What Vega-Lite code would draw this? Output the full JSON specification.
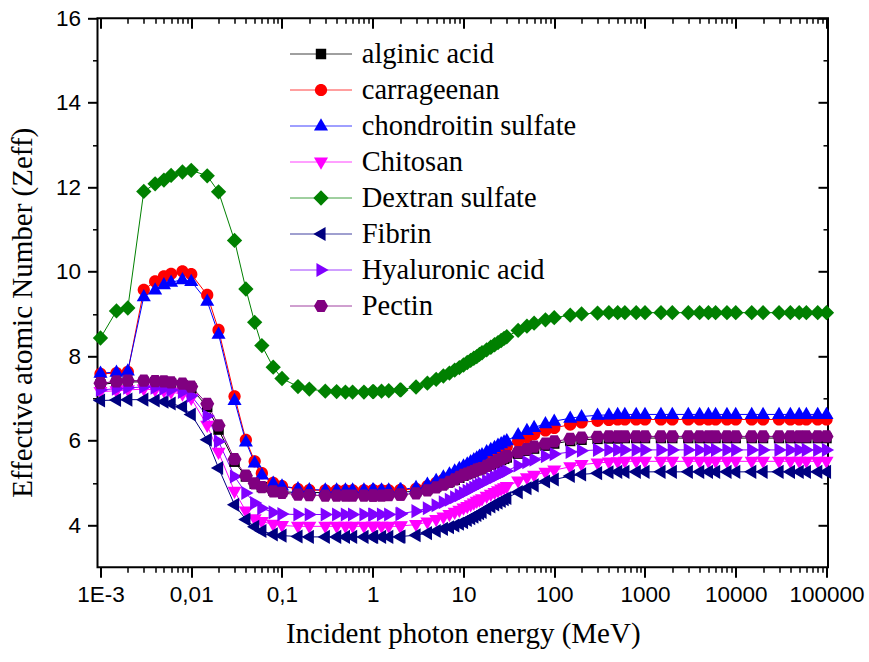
{
  "$schema": "https://vega.github.io/schema/vega-lite/v6.json",
  "width": 730.5,
  "height": 549,
  "autosize": {"type": "none"},
  "padding": {"left": 97.5, "top": 18.3, "right": 41, "bottom": 94.7},
  "background": "white",
  "config": {
    "view": {"stroke": "black", "strokeWidth": 2},
    "axis": {"grid": false, "domain": false, "tickColor": "black", "labelColor": "black", "titleColor": "black"},
    "style": {"guide-label": {"font": "Liberation Serif"}}
  },
  "data": {"values": [
    {"material":"alginic acid","energy":0.001,"zeff":7.33},{"material":"alginic acid","energy":0.0015,"zeff":7.37},{"material":"alginic acid","energy":0.002,"zeff":7.39},{"material":"alginic acid","energy":0.003,"zeff":7.39},{"material":"alginic acid","energy":0.004,"zeff":7.38},{"material":"alginic acid","energy":0.005,"zeff":7.37},{"material":"alginic acid","energy":0.006,"zeff":7.35},{"material":"alginic acid","energy":0.008,"zeff":7.31},{"material":"alginic acid","energy":0.01,"zeff":7.24},
    {"material":"alginic acid","energy":0.015,"zeff":6.80},{"material":"alginic acid","energy":0.02,"zeff":6.26},{"material":"alginic acid","energy":0.03,"zeff":5.50},{"material":"alginic acid","energy":0.04,"zeff":5.15},{"material":"alginic acid","energy":0.05,"zeff":4.98},{"material":"alginic acid","energy":0.06,"zeff":4.90},{"material":"alginic acid","energy":0.08,"zeff":4.82},{"material":"alginic acid","energy":0.1,"zeff":4.79},
    {"material":"alginic acid","energy":0.15,"zeff":4.77},{"material":"alginic acid","energy":0.2,"zeff":4.77},{"material":"alginic acid","energy":0.3,"zeff":4.77},{"material":"alginic acid","energy":0.4,"zeff":4.77},{"material":"alginic acid","energy":0.5,"zeff":4.77},{"material":"alginic acid","energy":0.6,"zeff":4.77},{"material":"alginic acid","energy":0.8,"zeff":4.77},{"material":"alginic acid","energy":1,"zeff":4.77},{"material":"alginic acid","energy":1.022,"zeff":4.77},{"material":"alginic acid","energy":1.25,"zeff":4.77},{"material":"alginic acid","energy":1.5,"zeff":4.77},{"material":"alginic acid","energy":2,"zeff":4.77},{"material":"alginic acid","energy":2.044,"zeff":4.78},
    {"material":"alginic acid","energy":3,"zeff":4.80},{"material":"alginic acid","energy":4,"zeff":4.85},{"material":"alginic acid","energy":5,"zeff":4.91},{"material":"alginic acid","energy":6,"zeff":4.97},{"material":"alginic acid","energy":7,"zeff":5.02},{"material":"alginic acid","energy":8,"zeff":5.07},{"material":"alginic acid","energy":9,"zeff":5.12},{"material":"alginic acid","energy":10,"zeff":5.17},{"material":"alginic acid","energy":11,"zeff":5.21},{"material":"alginic acid","energy":12,"zeff":5.24},{"material":"alginic acid","energy":13,"zeff":5.27},{"material":"alginic acid","energy":14,"zeff":5.30},{"material":"alginic acid","energy":15,"zeff":5.32},{"material":"alginic acid","energy":16,"zeff":5.34},{"material":"alginic acid","energy":18,"zeff":5.39},{"material":"alginic acid","energy":20,"zeff":5.43},{"material":"alginic acid","energy":22,"zeff":5.47},{"material":"alginic acid","energy":24,"zeff":5.50},{"material":"alginic acid","energy":26,"zeff":5.54},{"material":"alginic acid","energy":28,"zeff":5.57},{"material":"alginic acid","energy":30,"zeff":5.60},
    {"material":"alginic acid","energy":40,"zeff":5.69},{"material":"alginic acid","energy":50,"zeff":5.76},{"material":"alginic acid","energy":60,"zeff":5.81},{"material":"alginic acid","energy":80,"zeff":5.88},{"material":"alginic acid","energy":100,"zeff":5.93},{"material":"alginic acid","energy":150,"zeff":5.99},{"material":"alginic acid","energy":200,"zeff":6.02},{"material":"alginic acid","energy":300,"zeff":6.04},{"material":"alginic acid","energy":400,"zeff":6.05},{"material":"alginic acid","energy":500,"zeff":6.05},{"material":"alginic acid","energy":600,"zeff":6.06},{"material":"alginic acid","energy":800,"zeff":6.06},
    {"material":"alginic acid","energy":1000,"zeff":6.06},{"material":"alginic acid","energy":1500,"zeff":6.06},{"material":"alginic acid","energy":2000,"zeff":6.06},{"material":"alginic acid","energy":3000,"zeff":6.06},{"material":"alginic acid","energy":4000,"zeff":6.06},{"material":"alginic acid","energy":5000,"zeff":6.06},{"material":"alginic acid","energy":6000,"zeff":6.06},{"material":"alginic acid","energy":8000,"zeff":6.06},{"material":"alginic acid","energy":10000,"zeff":6.06},{"material":"alginic acid","energy":15000,"zeff":6.06},{"material":"alginic acid","energy":20000,"zeff":6.06},{"material":"alginic acid","energy":30000,"zeff":6.06},{"material":"alginic acid","energy":40000,"zeff":6.06},{"material":"alginic acid","energy":50000,"zeff":6.06},{"material":"alginic acid","energy":60000,"zeff":6.06},{"material":"alginic acid","energy":80000,"zeff":6.06},{"material":"alginic acid","energy":100000,"zeff":6.06},

    {"material":"carrageenan","energy":0.001,"zeff":7.58},{"material":"carrageenan","energy":0.0015,"zeff":7.60},{"material":"carrageenan","energy":0.002,"zeff":7.63},{"material":"carrageenan","energy":0.003,"zeff":9.57},{"material":"carrageenan","energy":0.004,"zeff":9.77},{"material":"carrageenan","energy":0.005,"zeff":9.89},{"material":"carrageenan","energy":0.006,"zeff":9.95},{"material":"carrageenan","energy":0.008,"zeff":10.01},{"material":"carrageenan","energy":0.01,"zeff":9.94},
    {"material":"carrageenan","energy":0.015,"zeff":9.45},{"material":"carrageenan","energy":0.02,"zeff":8.62},{"material":"carrageenan","energy":0.03,"zeff":7.05},{"material":"carrageenan","energy":0.04,"zeff":6.02},{"material":"carrageenan","energy":0.05,"zeff":5.51},{"material":"carrageenan","energy":0.06,"zeff":5.23},{"material":"carrageenan","energy":0.08,"zeff":5.00},{"material":"carrageenan","energy":0.1,"zeff":4.92},
    {"material":"carrageenan","energy":0.15,"zeff":4.85},{"material":"carrageenan","energy":0.2,"zeff":4.83},{"material":"carrageenan","energy":0.3,"zeff":4.82},{"material":"carrageenan","energy":0.4,"zeff":4.82},{"material":"carrageenan","energy":0.5,"zeff":4.82},{"material":"carrageenan","energy":0.6,"zeff":4.82},{"material":"carrageenan","energy":0.8,"zeff":4.82},{"material":"carrageenan","energy":1,"zeff":4.82},{"material":"carrageenan","energy":1.022,"zeff":4.82},{"material":"carrageenan","energy":1.25,"zeff":4.82},{"material":"carrageenan","energy":1.5,"zeff":4.82},{"material":"carrageenan","energy":2,"zeff":4.83},{"material":"carrageenan","energy":2.044,"zeff":4.83},
    {"material":"carrageenan","energy":3,"zeff":4.86},{"material":"carrageenan","energy":4,"zeff":4.92},{"material":"carrageenan","energy":5,"zeff":5.00},{"material":"carrageenan","energy":6,"zeff":5.07},{"material":"carrageenan","energy":7,"zeff":5.13},{"material":"carrageenan","energy":8,"zeff":5.19},{"material":"carrageenan","energy":9,"zeff":5.25},{"material":"carrageenan","energy":10,"zeff":5.30},{"material":"carrageenan","energy":11,"zeff":5.35},{"material":"carrageenan","energy":12,"zeff":5.39},{"material":"carrageenan","energy":13,"zeff":5.43},{"material":"carrageenan","energy":14,"zeff":5.47},{"material":"carrageenan","energy":15,"zeff":5.51},{"material":"carrageenan","energy":16,"zeff":5.54},{"material":"carrageenan","energy":18,"zeff":5.60},{"material":"carrageenan","energy":20,"zeff":5.66},{"material":"carrageenan","energy":22,"zeff":5.71},{"material":"carrageenan","energy":24,"zeff":5.75},{"material":"carrageenan","energy":26,"zeff":5.79},{"material":"carrageenan","energy":28,"zeff":5.83},{"material":"carrageenan","energy":30,"zeff":5.86},
    {"material":"carrageenan","energy":40,"zeff":5.99},{"material":"carrageenan","energy":50,"zeff":6.08},{"material":"carrageenan","energy":60,"zeff":6.15},{"material":"carrageenan","energy":80,"zeff":6.24},{"material":"carrageenan","energy":100,"zeff":6.30},{"material":"carrageenan","energy":150,"zeff":6.38},{"material":"carrageenan","energy":200,"zeff":6.43},{"material":"carrageenan","energy":300,"zeff":6.47},{"material":"carrageenan","energy":400,"zeff":6.49},{"material":"carrageenan","energy":500,"zeff":6.50},{"material":"carrageenan","energy":600,"zeff":6.50},{"material":"carrageenan","energy":800,"zeff":6.50},
    {"material":"carrageenan","energy":1000,"zeff":6.50},{"material":"carrageenan","energy":1500,"zeff":6.50},{"material":"carrageenan","energy":2000,"zeff":6.50},{"material":"carrageenan","energy":3000,"zeff":6.50},{"material":"carrageenan","energy":4000,"zeff":6.50},{"material":"carrageenan","energy":5000,"zeff":6.50},{"material":"carrageenan","energy":6000,"zeff":6.50},{"material":"carrageenan","energy":8000,"zeff":6.50},{"material":"carrageenan","energy":10000,"zeff":6.50},{"material":"carrageenan","energy":15000,"zeff":6.50},{"material":"carrageenan","energy":20000,"zeff":6.50},{"material":"carrageenan","energy":30000,"zeff":6.50},{"material":"carrageenan","energy":40000,"zeff":6.50},{"material":"carrageenan","energy":50000,"zeff":6.50},{"material":"carrageenan","energy":60000,"zeff":6.50},{"material":"carrageenan","energy":80000,"zeff":6.50},{"material":"carrageenan","energy":100000,"zeff":6.50},

    {"material":"chondroitin sulfate","energy":0.001,"zeff":7.60},{"material":"chondroitin sulfate","energy":0.0015,"zeff":7.62},{"material":"chondroitin sulfate","energy":0.002,"zeff":7.65},{"material":"chondroitin sulfate","energy":0.003,"zeff":9.41},{"material":"chondroitin sulfate","energy":0.004,"zeff":9.57},{"material":"chondroitin sulfate","energy":0.005,"zeff":9.69},{"material":"chondroitin sulfate","energy":0.006,"zeff":9.75},{"material":"chondroitin sulfate","energy":0.008,"zeff":9.81},{"material":"chondroitin sulfate","energy":0.01,"zeff":9.77},
    {"material":"chondroitin sulfate","energy":0.015,"zeff":9.30},{"material":"chondroitin sulfate","energy":0.02,"zeff":8.52},{"material":"chondroitin sulfate","energy":0.03,"zeff":6.95},{"material":"chondroitin sulfate","energy":0.04,"zeff":5.97},{"material":"chondroitin sulfate","energy":0.05,"zeff":5.47},{"material":"chondroitin sulfate","energy":0.06,"zeff":5.19},{"material":"chondroitin sulfate","energy":0.08,"zeff":4.99},{"material":"chondroitin sulfate","energy":0.1,"zeff":4.93},
    {"material":"chondroitin sulfate","energy":0.15,"zeff":4.86},{"material":"chondroitin sulfate","energy":0.2,"zeff":4.84},{"material":"chondroitin sulfate","energy":0.3,"zeff":4.83},{"material":"chondroitin sulfate","energy":0.4,"zeff":4.83},{"material":"chondroitin sulfate","energy":0.5,"zeff":4.83},{"material":"chondroitin sulfate","energy":0.6,"zeff":4.83},{"material":"chondroitin sulfate","energy":0.8,"zeff":4.83},{"material":"chondroitin sulfate","energy":1,"zeff":4.83},{"material":"chondroitin sulfate","energy":1.022,"zeff":4.83},{"material":"chondroitin sulfate","energy":1.25,"zeff":4.83},{"material":"chondroitin sulfate","energy":1.5,"zeff":4.83},{"material":"chondroitin sulfate","energy":2,"zeff":4.84},{"material":"chondroitin sulfate","energy":2.044,"zeff":4.84},
    {"material":"chondroitin sulfate","energy":3,"zeff":4.89},{"material":"chondroitin sulfate","energy":4,"zeff":4.97},{"material":"chondroitin sulfate","energy":5,"zeff":5.06},{"material":"chondroitin sulfate","energy":6,"zeff":5.14},{"material":"chondroitin sulfate","energy":7,"zeff":5.21},{"material":"chondroitin sulfate","energy":8,"zeff":5.28},{"material":"chondroitin sulfate","energy":9,"zeff":5.34},{"material":"chondroitin sulfate","energy":10,"zeff":5.40},{"material":"chondroitin sulfate","energy":11,"zeff":5.45},{"material":"chondroitin sulfate","energy":12,"zeff":5.50},{"material":"chondroitin sulfate","energy":13,"zeff":5.55},{"material":"chondroitin sulfate","energy":14,"zeff":5.59},{"material":"chondroitin sulfate","energy":15,"zeff":5.63},{"material":"chondroitin sulfate","energy":16,"zeff":5.67},{"material":"chondroitin sulfate","energy":18,"zeff":5.74},{"material":"chondroitin sulfate","energy":20,"zeff":5.79},{"material":"chondroitin sulfate","energy":22,"zeff":5.84},{"material":"chondroitin sulfate","energy":24,"zeff":5.89},{"material":"chondroitin sulfate","energy":26,"zeff":5.93},{"material":"chondroitin sulfate","energy":28,"zeff":5.97},{"material":"chondroitin sulfate","energy":30,"zeff":6.00},
    {"material":"chondroitin sulfate","energy":40,"zeff":6.14},{"material":"chondroitin sulfate","energy":50,"zeff":6.24},{"material":"chondroitin sulfate","energy":60,"zeff":6.31},{"material":"chondroitin sulfate","energy":80,"zeff":6.40},{"material":"chondroitin sulfate","energy":100,"zeff":6.46},{"material":"chondroitin sulfate","energy":150,"zeff":6.53},{"material":"chondroitin sulfate","energy":200,"zeff":6.57},{"material":"chondroitin sulfate","energy":300,"zeff":6.60},{"material":"chondroitin sulfate","energy":400,"zeff":6.61},{"material":"chondroitin sulfate","energy":500,"zeff":6.62},{"material":"chondroitin sulfate","energy":600,"zeff":6.62},{"material":"chondroitin sulfate","energy":800,"zeff":6.62},
    {"material":"chondroitin sulfate","energy":1000,"zeff":6.62},{"material":"chondroitin sulfate","energy":1500,"zeff":6.62},{"material":"chondroitin sulfate","energy":2000,"zeff":6.62},{"material":"chondroitin sulfate","energy":3000,"zeff":6.62},{"material":"chondroitin sulfate","energy":4000,"zeff":6.62},{"material":"chondroitin sulfate","energy":5000,"zeff":6.62},{"material":"chondroitin sulfate","energy":6000,"zeff":6.62},{"material":"chondroitin sulfate","energy":8000,"zeff":6.62},{"material":"chondroitin sulfate","energy":10000,"zeff":6.62},{"material":"chondroitin sulfate","energy":15000,"zeff":6.62},{"material":"chondroitin sulfate","energy":20000,"zeff":6.62},{"material":"chondroitin sulfate","energy":30000,"zeff":6.62},{"material":"chondroitin sulfate","energy":40000,"zeff":6.62},{"material":"chondroitin sulfate","energy":50000,"zeff":6.62},{"material":"chondroitin sulfate","energy":60000,"zeff":6.62},{"material":"chondroitin sulfate","energy":80000,"zeff":6.62},{"material":"chondroitin sulfate","energy":100000,"zeff":6.62},

    {"material":"Chitosan","energy":0.001,"zeff":7.16},{"material":"Chitosan","energy":0.0015,"zeff":7.18},{"material":"Chitosan","energy":0.002,"zeff":7.20},{"material":"Chitosan","energy":0.003,"zeff":7.22},{"material":"Chitosan","energy":0.004,"zeff":7.20},{"material":"Chitosan","energy":0.005,"zeff":7.18},{"material":"Chitosan","energy":0.006,"zeff":7.15},{"material":"Chitosan","energy":0.008,"zeff":7.10},{"material":"Chitosan","energy":0.01,"zeff":7.00},
    {"material":"Chitosan","energy":0.015,"zeff":6.36},{"material":"Chitosan","energy":0.02,"zeff":5.72},{"material":"Chitosan","energy":0.03,"zeff":4.80},{"material":"Chitosan","energy":0.04,"zeff":4.33},{"material":"Chitosan","energy":0.05,"zeff":4.15},{"material":"Chitosan","energy":0.06,"zeff":4.08},{"material":"Chitosan","energy":0.08,"zeff":4.02},{"material":"Chitosan","energy":0.1,"zeff":3.99},
    {"material":"Chitosan","energy":0.15,"zeff":3.97},{"material":"Chitosan","energy":0.2,"zeff":3.97},{"material":"Chitosan","energy":0.3,"zeff":3.97},{"material":"Chitosan","energy":0.4,"zeff":3.97},{"material":"Chitosan","energy":0.5,"zeff":3.97},{"material":"Chitosan","energy":0.6,"zeff":3.97},{"material":"Chitosan","energy":0.8,"zeff":3.97},{"material":"Chitosan","energy":1,"zeff":3.97},{"material":"Chitosan","energy":1.022,"zeff":3.97},{"material":"Chitosan","energy":1.25,"zeff":3.97},{"material":"Chitosan","energy":1.5,"zeff":3.97},{"material":"Chitosan","energy":2,"zeff":3.97},{"material":"Chitosan","energy":2.044,"zeff":3.98},
    {"material":"Chitosan","energy":3,"zeff":4.01},{"material":"Chitosan","energy":4,"zeff":4.07},{"material":"Chitosan","energy":5,"zeff":4.13},{"material":"Chitosan","energy":6,"zeff":4.19},{"material":"Chitosan","energy":7,"zeff":4.25},{"material":"Chitosan","energy":8,"zeff":4.30},{"material":"Chitosan","energy":9,"zeff":4.35},{"material":"Chitosan","energy":10,"zeff":4.40},{"material":"Chitosan","energy":11,"zeff":4.44},{"material":"Chitosan","energy":12,"zeff":4.48},{"material":"Chitosan","energy":13,"zeff":4.52},{"material":"Chitosan","energy":14,"zeff":4.56},{"material":"Chitosan","energy":15,"zeff":4.59},{"material":"Chitosan","energy":16,"zeff":4.62},{"material":"Chitosan","energy":18,"zeff":4.68},{"material":"Chitosan","energy":20,"zeff":4.73},{"material":"Chitosan","energy":22,"zeff":4.77},{"material":"Chitosan","energy":24,"zeff":4.81},{"material":"Chitosan","energy":26,"zeff":4.85},{"material":"Chitosan","energy":28,"zeff":4.88},{"material":"Chitosan","energy":30,"zeff":4.91},
    {"material":"Chitosan","energy":40,"zeff":5.04},{"material":"Chitosan","energy":50,"zeff":5.12},{"material":"Chitosan","energy":60,"zeff":5.18},{"material":"Chitosan","energy":80,"zeff":5.25},{"material":"Chitosan","energy":100,"zeff":5.30},{"material":"Chitosan","energy":150,"zeff":5.38},{"material":"Chitosan","energy":200,"zeff":5.43},{"material":"Chitosan","energy":300,"zeff":5.47},{"material":"Chitosan","energy":400,"zeff":5.49},{"material":"Chitosan","energy":500,"zeff":5.50},{"material":"Chitosan","energy":600,"zeff":5.51},{"material":"Chitosan","energy":800,"zeff":5.51},
    {"material":"Chitosan","energy":1000,"zeff":5.51},{"material":"Chitosan","energy":1500,"zeff":5.51},{"material":"Chitosan","energy":2000,"zeff":5.51},{"material":"Chitosan","energy":3000,"zeff":5.51},{"material":"Chitosan","energy":4000,"zeff":5.51},{"material":"Chitosan","energy":5000,"zeff":5.51},{"material":"Chitosan","energy":6000,"zeff":5.51},{"material":"Chitosan","energy":8000,"zeff":5.51},{"material":"Chitosan","energy":10000,"zeff":5.51},{"material":"Chitosan","energy":15000,"zeff":5.51},{"material":"Chitosan","energy":20000,"zeff":5.51},{"material":"Chitosan","energy":30000,"zeff":5.51},{"material":"Chitosan","energy":40000,"zeff":5.51},{"material":"Chitosan","energy":50000,"zeff":5.51},{"material":"Chitosan","energy":60000,"zeff":5.51},{"material":"Chitosan","energy":80000,"zeff":5.51},{"material":"Chitosan","energy":100000,"zeff":5.51},

    {"material":"Dextran sulfate","energy":0.001,"zeff":8.43},{"material":"Dextran sulfate","energy":0.0015,"zeff":9.07},{"material":"Dextran sulfate","energy":0.002,"zeff":9.14},{"material":"Dextran sulfate","energy":0.003,"zeff":11.90},{"material":"Dextran sulfate","energy":0.004,"zeff":12.08},{"material":"Dextran sulfate","energy":0.005,"zeff":12.17},{"material":"Dextran sulfate","energy":0.006,"zeff":12.28},{"material":"Dextran sulfate","energy":0.008,"zeff":12.36},{"material":"Dextran sulfate","energy":0.01,"zeff":12.40},
    {"material":"Dextran sulfate","energy":0.015,"zeff":12.27},{"material":"Dextran sulfate","energy":0.02,"zeff":11.89},{"material":"Dextran sulfate","energy":0.03,"zeff":10.74},{"material":"Dextran sulfate","energy":0.04,"zeff":9.59},{"material":"Dextran sulfate","energy":0.05,"zeff":8.80},{"material":"Dextran sulfate","energy":0.06,"zeff":8.25},{"material":"Dextran sulfate","energy":0.08,"zeff":7.74},{"material":"Dextran sulfate","energy":0.1,"zeff":7.47},
    {"material":"Dextran sulfate","energy":0.15,"zeff":7.28},{"material":"Dextran sulfate","energy":0.2,"zeff":7.22},{"material":"Dextran sulfate","energy":0.3,"zeff":7.17},{"material":"Dextran sulfate","energy":0.4,"zeff":7.16},{"material":"Dextran sulfate","energy":0.5,"zeff":7.15},{"material":"Dextran sulfate","energy":0.6,"zeff":7.15},{"material":"Dextran sulfate","energy":0.8,"zeff":7.15},{"material":"Dextran sulfate","energy":1,"zeff":7.16},{"material":"Dextran sulfate","energy":1.022,"zeff":7.16},{"material":"Dextran sulfate","energy":1.25,"zeff":7.17},{"material":"Dextran sulfate","energy":1.5,"zeff":7.18},{"material":"Dextran sulfate","energy":2,"zeff":7.20},{"material":"Dextran sulfate","energy":2.044,"zeff":7.20},
    {"material":"Dextran sulfate","energy":3,"zeff":7.27},{"material":"Dextran sulfate","energy":4,"zeff":7.36},{"material":"Dextran sulfate","energy":5,"zeff":7.45},{"material":"Dextran sulfate","energy":6,"zeff":7.53},{"material":"Dextran sulfate","energy":7,"zeff":7.60},{"material":"Dextran sulfate","energy":8,"zeff":7.67},{"material":"Dextran sulfate","energy":9,"zeff":7.73},{"material":"Dextran sulfate","energy":10,"zeff":7.79},{"material":"Dextran sulfate","energy":11,"zeff":7.85},{"material":"Dextran sulfate","energy":12,"zeff":7.90},{"material":"Dextran sulfate","energy":13,"zeff":7.95},{"material":"Dextran sulfate","energy":14,"zeff":7.99},{"material":"Dextran sulfate","energy":15,"zeff":8.04},{"material":"Dextran sulfate","energy":16,"zeff":8.08},{"material":"Dextran sulfate","energy":18,"zeff":8.15},{"material":"Dextran sulfate","energy":20,"zeff":8.21},{"material":"Dextran sulfate","energy":22,"zeff":8.27},{"material":"Dextran sulfate","energy":24,"zeff":8.32},{"material":"Dextran sulfate","energy":26,"zeff":8.37},{"material":"Dextran sulfate","energy":28,"zeff":8.42},{"material":"Dextran sulfate","energy":30,"zeff":8.46},
    {"material":"Dextran sulfate","energy":40,"zeff":8.61},{"material":"Dextran sulfate","energy":50,"zeff":8.71},{"material":"Dextran sulfate","energy":60,"zeff":8.78},{"material":"Dextran sulfate","energy":80,"zeff":8.86},{"material":"Dextran sulfate","energy":100,"zeff":8.91},{"material":"Dextran sulfate","energy":150,"zeff":8.97},{"material":"Dextran sulfate","energy":200,"zeff":9.00},{"material":"Dextran sulfate","energy":300,"zeff":9.02},{"material":"Dextran sulfate","energy":400,"zeff":9.03},{"material":"Dextran sulfate","energy":500,"zeff":9.03},{"material":"Dextran sulfate","energy":600,"zeff":9.03},{"material":"Dextran sulfate","energy":800,"zeff":9.03},
    {"material":"Dextran sulfate","energy":1000,"zeff":9.03},{"material":"Dextran sulfate","energy":1500,"zeff":9.03},{"material":"Dextran sulfate","energy":2000,"zeff":9.03},{"material":"Dextran sulfate","energy":3000,"zeff":9.03},{"material":"Dextran sulfate","energy":4000,"zeff":9.03},{"material":"Dextran sulfate","energy":5000,"zeff":9.03},{"material":"Dextran sulfate","energy":6000,"zeff":9.03},{"material":"Dextran sulfate","energy":8000,"zeff":9.03},{"material":"Dextran sulfate","energy":10000,"zeff":9.03},{"material":"Dextran sulfate","energy":15000,"zeff":9.03},{"material":"Dextran sulfate","energy":20000,"zeff":9.03},{"material":"Dextran sulfate","energy":30000,"zeff":9.03},{"material":"Dextran sulfate","energy":40000,"zeff":9.03},{"material":"Dextran sulfate","energy":50000,"zeff":9.03},{"material":"Dextran sulfate","energy":60000,"zeff":9.03},{"material":"Dextran sulfate","energy":80000,"zeff":9.03},{"material":"Dextran sulfate","energy":100000,"zeff":9.03},

    {"material":"Fibrin","energy":0.001,"zeff":6.95},{"material":"Fibrin","energy":0.0015,"zeff":6.96},{"material":"Fibrin","energy":0.002,"zeff":6.97},{"material":"Fibrin","energy":0.003,"zeff":6.97},{"material":"Fibrin","energy":0.004,"zeff":6.95},{"material":"Fibrin","energy":0.005,"zeff":6.92},{"material":"Fibrin","energy":0.006,"zeff":6.88},{"material":"Fibrin","energy":0.008,"zeff":6.80},{"material":"Fibrin","energy":0.01,"zeff":6.62},
    {"material":"Fibrin","energy":0.015,"zeff":6.02},{"material":"Fibrin","energy":0.02,"zeff":5.35},{"material":"Fibrin","energy":0.03,"zeff":4.48},{"material":"Fibrin","energy":0.04,"zeff":4.13},{"material":"Fibrin","energy":0.05,"zeff":3.96},{"material":"Fibrin","energy":0.06,"zeff":3.86},{"material":"Fibrin","energy":0.08,"zeff":3.78},{"material":"Fibrin","energy":0.1,"zeff":3.75},
    {"material":"Fibrin","energy":0.15,"zeff":3.73},{"material":"Fibrin","energy":0.2,"zeff":3.72},{"material":"Fibrin","energy":0.3,"zeff":3.72},{"material":"Fibrin","energy":0.4,"zeff":3.72},{"material":"Fibrin","energy":0.5,"zeff":3.72},{"material":"Fibrin","energy":0.6,"zeff":3.72},{"material":"Fibrin","energy":0.8,"zeff":3.72},{"material":"Fibrin","energy":1,"zeff":3.72},{"material":"Fibrin","energy":1.022,"zeff":3.72},{"material":"Fibrin","energy":1.25,"zeff":3.72},{"material":"Fibrin","energy":1.5,"zeff":3.72},{"material":"Fibrin","energy":2,"zeff":3.72},{"material":"Fibrin","energy":2.044,"zeff":3.73},
    {"material":"Fibrin","energy":3,"zeff":3.76},{"material":"Fibrin","energy":4,"zeff":3.81},{"material":"Fibrin","energy":5,"zeff":3.86},{"material":"Fibrin","energy":6,"zeff":3.91},{"material":"Fibrin","energy":7,"zeff":3.95},{"material":"Fibrin","energy":8,"zeff":3.99},{"material":"Fibrin","energy":9,"zeff":4.03},{"material":"Fibrin","energy":10,"zeff":4.07},{"material":"Fibrin","energy":11,"zeff":4.12},{"material":"Fibrin","energy":12,"zeff":4.16},{"material":"Fibrin","energy":13,"zeff":4.20},{"material":"Fibrin","energy":14,"zeff":4.24},{"material":"Fibrin","energy":15,"zeff":4.28},{"material":"Fibrin","energy":16,"zeff":4.31},{"material":"Fibrin","energy":18,"zeff":4.38},{"material":"Fibrin","energy":20,"zeff":4.44},{"material":"Fibrin","energy":22,"zeff":4.49},{"material":"Fibrin","energy":24,"zeff":4.53},{"material":"Fibrin","energy":26,"zeff":4.57},{"material":"Fibrin","energy":28,"zeff":4.61},{"material":"Fibrin","energy":30,"zeff":4.64},
    {"material":"Fibrin","energy":40,"zeff":4.78},{"material":"Fibrin","energy":50,"zeff":4.87},{"material":"Fibrin","energy":60,"zeff":4.94},{"material":"Fibrin","energy":80,"zeff":5.03},{"material":"Fibrin","energy":100,"zeff":5.08},{"material":"Fibrin","energy":150,"zeff":5.16},{"material":"Fibrin","energy":200,"zeff":5.20},{"material":"Fibrin","energy":300,"zeff":5.23},{"material":"Fibrin","energy":400,"zeff":5.25},{"material":"Fibrin","energy":500,"zeff":5.26},{"material":"Fibrin","energy":600,"zeff":5.26},{"material":"Fibrin","energy":800,"zeff":5.26},
    {"material":"Fibrin","energy":1000,"zeff":5.26},{"material":"Fibrin","energy":1500,"zeff":5.26},{"material":"Fibrin","energy":2000,"zeff":5.26},{"material":"Fibrin","energy":3000,"zeff":5.26},{"material":"Fibrin","energy":4000,"zeff":5.26},{"material":"Fibrin","energy":5000,"zeff":5.26},{"material":"Fibrin","energy":6000,"zeff":5.26},{"material":"Fibrin","energy":8000,"zeff":5.26},{"material":"Fibrin","energy":10000,"zeff":5.26},{"material":"Fibrin","energy":15000,"zeff":5.26},{"material":"Fibrin","energy":20000,"zeff":5.26},{"material":"Fibrin","energy":30000,"zeff":5.26},{"material":"Fibrin","energy":40000,"zeff":5.26},{"material":"Fibrin","energy":50000,"zeff":5.26},{"material":"Fibrin","energy":60000,"zeff":5.26},{"material":"Fibrin","energy":80000,"zeff":5.26},{"material":"Fibrin","energy":100000,"zeff":5.26},

    {"material":"Hyaluronic acid","energy":0.001,"zeff":7.20},{"material":"Hyaluronic acid","energy":0.0015,"zeff":7.23},{"material":"Hyaluronic acid","energy":0.002,"zeff":7.25},{"material":"Hyaluronic acid","energy":0.003,"zeff":7.27},{"material":"Hyaluronic acid","energy":0.004,"zeff":7.25},{"material":"Hyaluronic acid","energy":0.005,"zeff":7.23},{"material":"Hyaluronic acid","energy":0.006,"zeff":7.20},{"material":"Hyaluronic acid","energy":0.008,"zeff":7.15},{"material":"Hyaluronic acid","energy":0.01,"zeff":7.06},
    {"material":"Hyaluronic acid","energy":0.015,"zeff":6.58},{"material":"Hyaluronic acid","energy":0.02,"zeff":5.98},{"material":"Hyaluronic acid","energy":0.03,"zeff":5.15},{"material":"Hyaluronic acid","energy":0.04,"zeff":4.76},{"material":"Hyaluronic acid","energy":0.05,"zeff":4.52},{"material":"Hyaluronic acid","energy":0.06,"zeff":4.40},{"material":"Hyaluronic acid","energy":0.08,"zeff":4.30},{"material":"Hyaluronic acid","energy":0.1,"zeff":4.26},
    {"material":"Hyaluronic acid","energy":0.15,"zeff":4.25},{"material":"Hyaluronic acid","energy":0.2,"zeff":4.25},{"material":"Hyaluronic acid","energy":0.3,"zeff":4.25},{"material":"Hyaluronic acid","energy":0.4,"zeff":4.25},{"material":"Hyaluronic acid","energy":0.5,"zeff":4.25},{"material":"Hyaluronic acid","energy":0.6,"zeff":4.25},{"material":"Hyaluronic acid","energy":0.8,"zeff":4.25},{"material":"Hyaluronic acid","energy":1,"zeff":4.25},{"material":"Hyaluronic acid","energy":1.022,"zeff":4.25},{"material":"Hyaluronic acid","energy":1.25,"zeff":4.25},{"material":"Hyaluronic acid","energy":1.5,"zeff":4.25},{"material":"Hyaluronic acid","energy":2,"zeff":4.26},{"material":"Hyaluronic acid","energy":2.044,"zeff":4.27},
    {"material":"Hyaluronic acid","energy":3,"zeff":4.33},{"material":"Hyaluronic acid","energy":4,"zeff":4.40},{"material":"Hyaluronic acid","energy":5,"zeff":4.47},{"material":"Hyaluronic acid","energy":6,"zeff":4.54},{"material":"Hyaluronic acid","energy":7,"zeff":4.60},{"material":"Hyaluronic acid","energy":8,"zeff":4.66},{"material":"Hyaluronic acid","energy":9,"zeff":4.71},{"material":"Hyaluronic acid","energy":10,"zeff":4.76},{"material":"Hyaluronic acid","energy":11,"zeff":4.81},{"material":"Hyaluronic acid","energy":12,"zeff":4.85},{"material":"Hyaluronic acid","energy":13,"zeff":4.89},{"material":"Hyaluronic acid","energy":14,"zeff":4.93},{"material":"Hyaluronic acid","energy":15,"zeff":4.96},{"material":"Hyaluronic acid","energy":16,"zeff":4.99},{"material":"Hyaluronic acid","energy":18,"zeff":5.05},{"material":"Hyaluronic acid","energy":20,"zeff":5.10},{"material":"Hyaluronic acid","energy":22,"zeff":5.14},{"material":"Hyaluronic acid","energy":24,"zeff":5.18},{"material":"Hyaluronic acid","energy":26,"zeff":5.22},{"material":"Hyaluronic acid","energy":28,"zeff":5.25},{"material":"Hyaluronic acid","energy":30,"zeff":5.28},
    {"material":"Hyaluronic acid","energy":40,"zeff":5.41},{"material":"Hyaluronic acid","energy":50,"zeff":5.49},{"material":"Hyaluronic acid","energy":60,"zeff":5.55},{"material":"Hyaluronic acid","energy":80,"zeff":5.63},{"material":"Hyaluronic acid","energy":100,"zeff":5.68},{"material":"Hyaluronic acid","energy":150,"zeff":5.73},{"material":"Hyaluronic acid","energy":200,"zeff":5.76},{"material":"Hyaluronic acid","energy":300,"zeff":5.78},{"material":"Hyaluronic acid","energy":400,"zeff":5.78},{"material":"Hyaluronic acid","energy":500,"zeff":5.78},{"material":"Hyaluronic acid","energy":600,"zeff":5.78},{"material":"Hyaluronic acid","energy":800,"zeff":5.78},
    {"material":"Hyaluronic acid","energy":1000,"zeff":5.78},{"material":"Hyaluronic acid","energy":1500,"zeff":5.78},{"material":"Hyaluronic acid","energy":2000,"zeff":5.78},{"material":"Hyaluronic acid","energy":3000,"zeff":5.78},{"material":"Hyaluronic acid","energy":4000,"zeff":5.78},{"material":"Hyaluronic acid","energy":5000,"zeff":5.78},{"material":"Hyaluronic acid","energy":6000,"zeff":5.78},{"material":"Hyaluronic acid","energy":8000,"zeff":5.78},{"material":"Hyaluronic acid","energy":10000,"zeff":5.78},{"material":"Hyaluronic acid","energy":15000,"zeff":5.78},{"material":"Hyaluronic acid","energy":20000,"zeff":5.78},{"material":"Hyaluronic acid","energy":30000,"zeff":5.78},{"material":"Hyaluronic acid","energy":40000,"zeff":5.78},{"material":"Hyaluronic acid","energy":50000,"zeff":5.78},{"material":"Hyaluronic acid","energy":60000,"zeff":5.78},{"material":"Hyaluronic acid","energy":80000,"zeff":5.78},{"material":"Hyaluronic acid","energy":100000,"zeff":5.78},

    {"material":"Pectin","energy":0.001,"zeff":7.36},{"material":"Pectin","energy":0.0015,"zeff":7.40},{"material":"Pectin","energy":0.002,"zeff":7.42},{"material":"Pectin","energy":0.003,"zeff":7.42},{"material":"Pectin","energy":0.004,"zeff":7.41},{"material":"Pectin","energy":0.005,"zeff":7.40},{"material":"Pectin","energy":0.006,"zeff":7.38},{"material":"Pectin","energy":0.008,"zeff":7.35},{"material":"Pectin","energy":0.01,"zeff":7.28},
    {"material":"Pectin","energy":0.015,"zeff":6.87},{"material":"Pectin","energy":0.02,"zeff":6.36},{"material":"Pectin","energy":0.03,"zeff":5.56},{"material":"Pectin","energy":0.04,"zeff":5.17},{"material":"Pectin","energy":0.05,"zeff":4.99},{"material":"Pectin","energy":0.06,"zeff":4.90},{"material":"Pectin","energy":0.08,"zeff":4.80},{"material":"Pectin","energy":0.1,"zeff":4.76},
    {"material":"Pectin","energy":0.15,"zeff":4.72},{"material":"Pectin","energy":0.2,"zeff":4.71},{"material":"Pectin","energy":0.3,"zeff":4.70},{"material":"Pectin","energy":0.4,"zeff":4.70},{"material":"Pectin","energy":0.5,"zeff":4.70},{"material":"Pectin","energy":0.6,"zeff":4.70},{"material":"Pectin","energy":0.8,"zeff":4.70},{"material":"Pectin","energy":1,"zeff":4.70},{"material":"Pectin","energy":1.022,"zeff":4.70},{"material":"Pectin","energy":1.25,"zeff":4.70},{"material":"Pectin","energy":1.5,"zeff":4.71},{"material":"Pectin","energy":2,"zeff":4.72},{"material":"Pectin","energy":2.044,"zeff":4.72},
    {"material":"Pectin","energy":3,"zeff":4.75},{"material":"Pectin","energy":4,"zeff":4.82},{"material":"Pectin","energy":5,"zeff":4.89},{"material":"Pectin","energy":6,"zeff":4.96},{"material":"Pectin","energy":7,"zeff":5.02},{"material":"Pectin","energy":8,"zeff":5.08},{"material":"Pectin","energy":9,"zeff":5.14},{"material":"Pectin","energy":10,"zeff":5.19},{"material":"Pectin","energy":11,"zeff":5.22},{"material":"Pectin","energy":12,"zeff":5.25},{"material":"Pectin","energy":13,"zeff":5.28},{"material":"Pectin","energy":14,"zeff":5.31},{"material":"Pectin","energy":15,"zeff":5.33},{"material":"Pectin","energy":16,"zeff":5.35},{"material":"Pectin","energy":18,"zeff":5.40},{"material":"Pectin","energy":20,"zeff":5.45},{"material":"Pectin","energy":22,"zeff":5.49},{"material":"Pectin","energy":24,"zeff":5.53},{"material":"Pectin","energy":26,"zeff":5.57},{"material":"Pectin","energy":28,"zeff":5.60},{"material":"Pectin","energy":30,"zeff":5.64},
    {"material":"Pectin","energy":40,"zeff":5.73},{"material":"Pectin","energy":50,"zeff":5.80},{"material":"Pectin","energy":60,"zeff":5.86},{"material":"Pectin","energy":80,"zeff":5.93},{"material":"Pectin","energy":100,"zeff":5.98},{"material":"Pectin","energy":150,"zeff":6.04},{"material":"Pectin","energy":200,"zeff":6.07},{"material":"Pectin","energy":300,"zeff":6.09},{"material":"Pectin","energy":400,"zeff":6.10},{"material":"Pectin","energy":500,"zeff":6.10},{"material":"Pectin","energy":600,"zeff":6.10},{"material":"Pectin","energy":800,"zeff":6.10},
    {"material":"Pectin","energy":1000,"zeff":6.10},{"material":"Pectin","energy":1500,"zeff":6.10},{"material":"Pectin","energy":2000,"zeff":6.10},{"material":"Pectin","energy":3000,"zeff":6.10},{"material":"Pectin","energy":4000,"zeff":6.10},{"material":"Pectin","energy":5000,"zeff":6.10},{"material":"Pectin","energy":6000,"zeff":6.10},{"material":"Pectin","energy":8000,"zeff":6.10},{"material":"Pectin","energy":10000,"zeff":6.10},{"material":"Pectin","energy":15000,"zeff":6.10},{"material":"Pectin","energy":20000,"zeff":6.10},{"material":"Pectin","energy":30000,"zeff":6.10},{"material":"Pectin","energy":40000,"zeff":6.10},{"material":"Pectin","energy":50000,"zeff":6.10},{"material":"Pectin","energy":60000,"zeff":6.10},{"material":"Pectin","energy":80000,"zeff":6.10},{"material":"Pectin","energy":100000,"zeff":6.10}
  ]},
  "layer": [
    {
      "mark": {"type": "line", "strokeWidth": 1, "clip": true},
      "encoding": {
        "x": {
          "field": "energy", "type": "quantitative",
          "scale": {"type": "log", "domain": [0.000927, 103900], "nice": false},
          "axis": {
            "orient": "bottom",
            "values": [0.001, 0.01, 0.1, 1, 10, 100, 1000, 10000, 100000],
            "labelExpr": "datum.value < 0.005 ? '1E-3' : datum.value < 0.05 ? '0,01' : datum.value < 0.5 ? '0,1' : format(datum.value, 'd')",
            "labelFont": "Liberation Sans", "labelFontSize": 22.5, "labelPadding": 6,
            "labelFlush": false, "labelOverlap": false,
            "tickSize": 10, "tickWidth": 2,
            "title": "Incident photon energy (MeV)",
            "titleFont": "Liberation Serif", "titleFontSize": 29, "titleFontWeight": "normal", "titlePadding": 14
          }
        },
        "y": {
          "field": "zeff", "type": "quantitative",
          "scale": {"domain": [3, 16], "nice": false, "zero": false},
          "axis": {
            "orient": "left",
            "values": [4, 6, 8, 10, 12, 14, 16],
            "labelFont": "Liberation Sans", "labelFontSize": 22.5, "labelPadding": 7,
            "labelFlush": false, "labelOverlap": false,
            "tickSize": 10, "tickWidth": 2,
            "title": "Effective atomic Number (Zeff)",
            "titleFont": "Liberation Serif", "titleFontSize": 29, "titleFontWeight": "normal", "titlePadding": 18,
            "titleY": 294
          }
        },
        "stroke": {
          "field": "material", "type": "nominal",
          "sort": ["alginic acid", "carrageenan", "chondroitin sulfate", "Chitosan", "Dextran sulfate", "Fibrin", "Hyaluronic acid", "Pectin"],
          "scale": {"range": ["#000000", "#ff0000", "#0000ff", "#ff00ff", "#008000", "#000080", "#8000ff", "#800080"]},
          "legend": {
            "orient": "none", "legendX": 192, "legendY": 21.2, "padding": 0, "title": null,
            "symbolType": "stroke", "symbolSize": 3844, "symbolStrokeWidth": 1, "symbolOpacity": 0.75,
            "labelFont": "Liberation Serif", "labelFontSize": 28.5, "labelExpr": "''",
            "labelOffset": 0, "labelLimit": 400, "clipHeight": 29, "rowPadding": 7
          }
        }
      }
    },
    {
      "mark": {"type": "point", "filled": true, "opacity": 1, "size": 150},
      "encoding": {
        "x": {"field": "energy", "type": "quantitative", "axis": null},
        "y": {"field": "zeff", "type": "quantitative", "axis": null},
        "color": {
          "field": "material", "type": "nominal",
          "scale": {
            "domain": ["alginic acid", "carrageenan", "chondroitin sulfate", "Chitosan", "Dextran sulfate", "Fibrin", "Hyaluronic acid", "Pectin"],
            "range": ["#000000", "#ff0000", "#0000ff", "#ff00ff", "#008000", "#000080", "#8000ff", "#800080"]
          },
          "legend": {
            "orient": "none", "legendX": 209.25, "legendY": 21.2, "padding": 0, "title": null,
            "symbolSize": 150, "symbolOpacity": 1,
            "labelFont": "Liberation Serif", "labelFontSize": 28.5, "labelColor": "black",
            "labelOffset": 26.5, "labelLimit": 400, "clipHeight": 29, "rowPadding": 7
          }
        },
        "shape": {
          "field": "material", "type": "nominal",
          "scale": {
            "domain": ["alginic acid", "carrageenan", "chondroitin sulfate", "Chitosan", "Dextran sulfate", "Fibrin", "Hyaluronic acid", "Pectin"],
            "range": [
              "M-0.85,-0.85L0.85,-0.85L0.85,0.85L-0.85,0.85Z",
              "M-1,0A1,1,0,1,0,1,0A1,1,0,1,0,-1,0Z",
              "M0,-1.25L1.15,0.75L-1.15,0.75Z",
              "M0,1.25L1.15,-0.75L-1.15,-0.75Z",
              "M0,-1.25L1.25,0L0,1.25L-1.25,0Z",
              "M-1.25,0L0.75,-1.15L0.75,1.15Z",
              "M1.25,0L-0.75,-1.15L-0.75,1.15Z",
              "M-1.15,0L-0.58,-1L0.58,-1L1.15,0L0.58,1L-0.58,1Z"
            ]
          },
          "legend": {
            "orient": "none", "legendX": 209.25, "legendY": 21.2, "padding": 0, "title": null,
            "symbolSize": 150, "symbolOpacity": 1,
            "labelFont": "Liberation Serif", "labelFontSize": 28.5, "labelColor": "black",
            "labelOffset": 26.5, "labelLimit": 400, "clipHeight": 29, "rowPadding": 7
          }
        }
      }
    },
    {
      "mark": {"type": "point", "opacity": 0},
      "encoding": {
        "x": {"field": "energy", "type": "quantitative",
          "axis": {"orient": "bottom", "values": [0.002,0.003,0.004,0.005,0.006,0.007,0.008,0.009,0.02,0.03,0.04,0.05,0.06,0.07,0.08,0.09,0.2,0.3,0.4,0.5,0.6,0.7,0.8,0.9,2,3,4,5,6,7,8,9,20,30,40,50,60,70,80,90,200,300,400,500,600,700,800,900,2000,3000,4000,5000,6000,7000,8000,9000,20000,30000,40000,50000,60000,70000,80000,90000],
            "labels": false, "tickSize": 5, "tickWidth": 1.5, "title": null}},
        "y": {"field": "zeff", "type": "quantitative",
          "axis": {"orient": "left", "values": [5, 7, 9, 11, 13, 15], "labels": false, "tickSize": 5, "tickWidth": 1.5, "title": null}}
      }
    },
    {
      "mark": {"type": "point", "opacity": 0},
      "encoding": {
        "x": {"field": "energy", "type": "quantitative",
          "axis": {"orient": "top", "offset": -10, "values": [0.001, 0.01, 0.1, 1, 10, 100, 1000, 10000, 100000],
            "labels": false, "tickSize": 10, "tickWidth": 2, "title": null}},
        "y": {"field": "zeff", "type": "quantitative",
          "axis": {"orient": "right", "offset": -10, "values": [4, 6, 8, 10, 12, 14, 16], "labels": false, "tickSize": 10, "tickWidth": 2, "title": null}}
      }
    },
    {
      "mark": {"type": "point", "opacity": 0},
      "encoding": {
        "x": {"field": "energy", "type": "quantitative",
          "axis": {"orient": "top", "offset": -5, "values": [0.002,0.003,0.004,0.005,0.006,0.007,0.008,0.009,0.02,0.03,0.04,0.05,0.06,0.07,0.08,0.09,0.2,0.3,0.4,0.5,0.6,0.7,0.8,0.9,2,3,4,5,6,7,8,9,20,30,40,50,60,70,80,90,200,300,400,500,600,700,800,900,2000,3000,4000,5000,6000,7000,8000,9000,20000,30000,40000,50000,60000,70000,80000,90000],
            "labels": false, "tickSize": 5, "tickWidth": 1.5, "title": null}},
        "y": {"field": "zeff", "type": "quantitative",
          "axis": {"orient": "right", "offset": -5, "values": [5, 7, 9, 11, 13, 15], "labels": false, "tickSize": 5, "tickWidth": 1.5, "title": null}}
      }
    }
  ],
  "resolve": {"axis": {"x": "independent", "y": "independent"}}
}
